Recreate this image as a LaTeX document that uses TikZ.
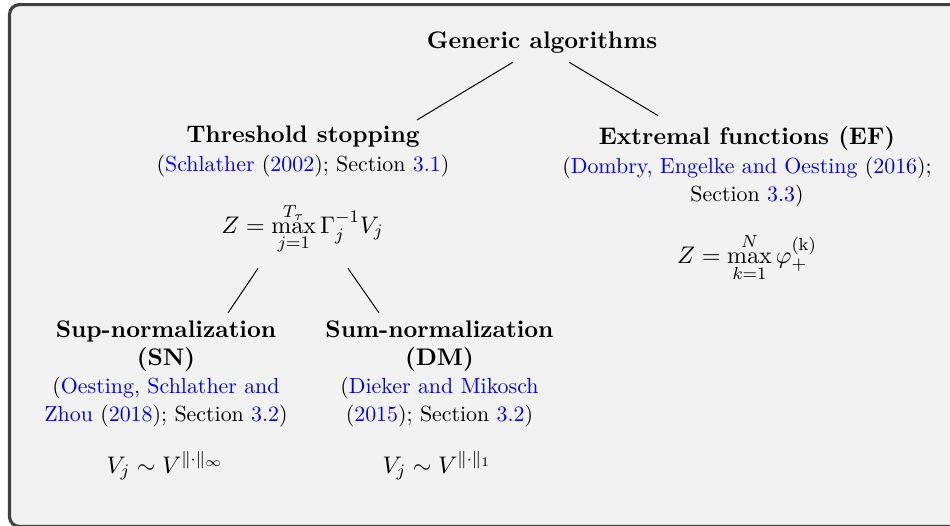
\documentclass[tikz,border=0pt]{standalone}
\usepackage{amsmath}
\definecolor{bgfill}{RGB}{242,242,242}
\definecolor{framecol}{RGB}{64,64,64}
\newcommand{\citec}[1]{\textcolor{blue}{#1}}
\newcommand{\ttlfont}{\fontsize{10.95}{12.9}\selectfont\bfseries}
\begin{document}
\begin{tikzpicture}[x=0.4566pt,y=-0.4566pt,
  every node/.style={font=\fontsize{10}{12.9}\selectfont, inner sep=0pt, outer sep=0pt},
  ttl/.style={font=\ttlfont, anchor=base},
  blk/.style={align=flush center, anchor=base, text width=#1},
  formula/.style={anchor=base, font=\fontsize{10.95}{12.9}\selectfont},
  conn/.style={draw=black, line width=0.45pt},
  frame/.style={draw=framecol, fill=bgfill, line width=1.45pt, rounded corners=4.6pt}]
\useasboundingbox (0,0) rectangle (950,525);
\path[frame] (9.5,4.6) rectangle (975,526.5);

\node[ttl] (gen) at (542,49) {Generic algorithms};

\node[blk=185pt] (thr) at (303,143) {{\ttlfont Threshold stopping}\\(\citec{Schlather} (\citec{2002}); Section \citec{3.1})};
\node[blk=185pt] (ef) at (747,145) {{\ttlfont Extremal functions (EF)}\\(\citec{Dombry, Engelke and Oesting} (\citec{2016}); Section \citec{3.3})};

\node[formula] (zt) at (302.5,233) {$\displaystyle Z=\max_{j=1}^{T_\tau}\Gamma_j^{-1}V_j$};
\node[formula] (zef) at (747,263) {$\displaystyle Z=\max_{k=1}^{N}\varphi_+^{(\mathrm{k})}$};

\node[blk=115pt] (sn) at (166,337) {{\ttlfont Sup-normalization (SN)}\\(\citec{Oesting, Schlather and Zhou} (\citec{2018}); Section \citec{3.2})};
\node[blk=115pt] (dm) at (439.5,337) {{\ttlfont Sum-normalization (DM)}\\(\citec{Dieker and Mikosch} (\citec{2015}); Section \citec{3.2})};

\node[formula] (vsn) at (165,473) {$V_j\sim V^{\|\cdot\|_\infty}$};
\node[formula] (vdm) at (437,473) {$V_j\sim V^{\|\cdot\|_1}$};

\draw[conn] ([shift={(-29,8.35)}]gen.south) -- ([shift={(114,-6.4)}]thr.north);
\draw[conn] ([shift={(27,8.35)}]gen.south) -- ([shift={(-89,-11.4)}]ef.north);
\draw[conn] ([shift={(-44.5,14)}]zt.south) -- ([shift={(62,-7.4)}]sn.north);
\draw[conn] ([shift={(45.5,14)}]zt.south) -- ([shift={(-60.5,-7.4)}]dm.north);
\end{tikzpicture}
\end{document}
